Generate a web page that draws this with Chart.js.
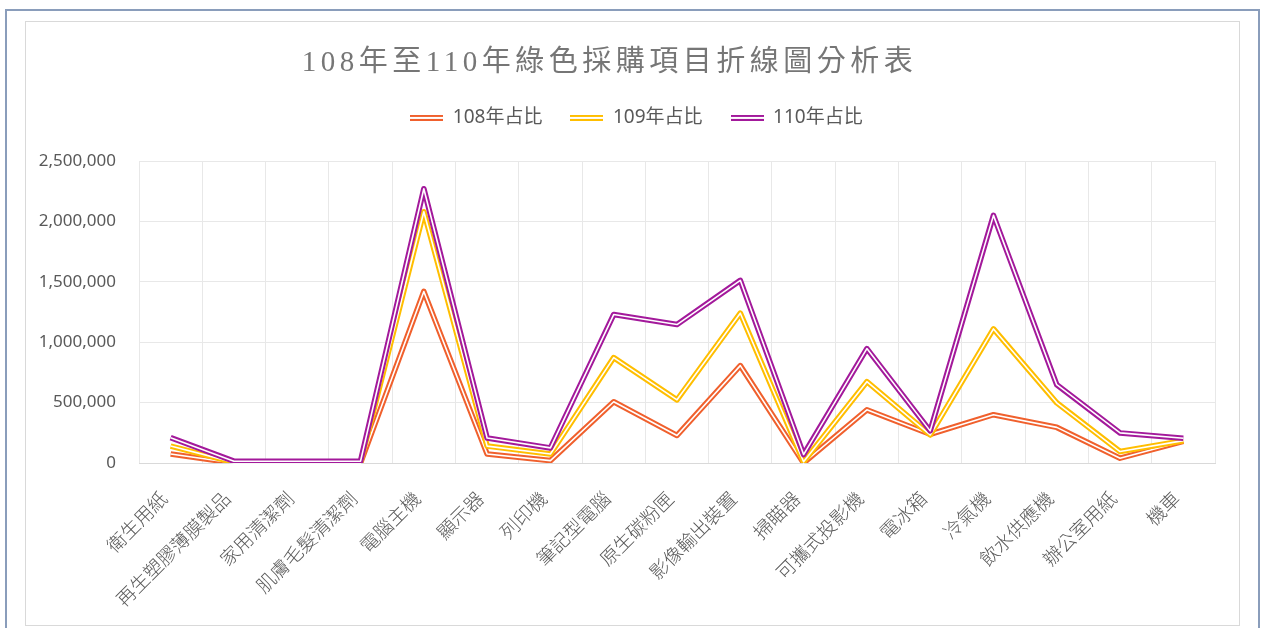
<!DOCTYPE html>
<html>
<head>
<meta charset="utf-8">
<script src="https://cdn.jsdelivr.net/npm/chart.js@4.4.1/dist/chart.umd.min.js"></script>
<style>
  html, body { margin: 0; padding: 0; background: #ffffff; width: 1261px; height: 628px; overflow: hidden; }
  #outer { position: absolute; left: 5px; top: 9px; width: 1251px; height: 640px; border: 2px solid #8a9dbb; border-bottom: none; }
  #frame { position: absolute; left: 25px; top: 21px; width: 1213px; height: 603px; border: 1px solid #d9d9d9; background: #fff; }
  #frame canvas { display: block; }
</style>
</head>
<body>
<div id="outer"></div>
<div id="frame"><canvas id="c" width="1213" height="603"></canvas></div>
<script>
// ---- data ----
const categories = ['衛生用紙','再生塑膠薄膜製品','家用清潔劑','肌膚毛髮清潔劑','電腦主機','顯示器','列印機','筆記型電腦','原生碳粉匣','影像輸出裝置','掃瞄器','可攜式投影機','電冰箱','冷氣機','飲水供應機','辦公室用紙','機車'];
const seriesNames = ['108年占比','109年占比','110年占比'];
const values108 = [75000, 0, 0, 0, 1420000, 75000, 20000, 507000, 228000, 806000, 0, 440000, 238000, 400000, 295000, 40000, 180000];
const values109 = [140000, 5000, 5000, 5000, 2080000, 140000, 75000, 872000, 523000, 1240000, 10000, 673000, 232000, 1110000, 498000, 95000, 185000];
const values110 = [210000, 15000, 15000, 15000, 2270000, 207000, 125000, 1229000, 1146000, 1512000, 70000, 947000, 266000, 2050000, 648000, 249000, 205000];
const yMin = 0, yMax = 2500000, yStep = 500000;
const titleText = '108年至110年綠色採購項目折線圖分析表';

const colors = ['#F0602D', '#FFBE00', '#A3199B'];

function legendSwatch(color) {
  const cv = document.createElement('canvas');
  cv.width = 33; cv.height = 6;
  const g = cv.getContext('2d');
  g.fillStyle = color; g.fillRect(0, 0, 33, 6);
  g.fillStyle = '#ffffff'; g.fillRect(0, 2, 33, 2);
  return cv;
}

const doubleLine = {
  id: 'doubleLine',
  afterDatasetDraw(chart, args) {
    const pts = args.meta.data;
    const ctx = chart.ctx;
    ctx.save();
    ctx.beginPath();
    pts.forEach((p, i) => { if (i === 0) ctx.moveTo(p.x, p.y); else ctx.lineTo(p.x, p.y); });
    ctx.lineWidth = 1.6;
    ctx.strokeStyle = '#ffffff';
    ctx.lineJoin = 'round';
    ctx.lineCap = 'butt';
    ctx.stroke();
    ctx.restore();
  }
};

function shiftBox(chart, box, dx, spacing) {
  if (!box || box._patched) return;
  const orig = box.draw.bind(box);
  box.draw = function(area) {
    const ctx = chart.ctx;
    ctx.save();
    if (spacing) ctx.letterSpacing = spacing;
    ctx.translate(dx, 0);
    orig(area);
    ctx.restore();
  };
  box._patched = true;
}

const boxShift = {
  id: 'boxShift',
  beforeDraw(chart) {
    shiftBox(chart, chart.titleBlock, -11, '4.5px');
    shiftBox(chart, chart.legend, 16, null);
  }
};

const seriesData = [values108, values109, values110];
const datasets = seriesData.map((vals, i) => ({
  label: seriesNames[i],
  data: vals,
  borderColor: colors[i],
  backgroundColor: colors[i],
  borderWidth: 5.6,
  borderJoinStyle: 'round',
  borderCapStyle: 'butt',
  pointRadius: 0,
  pointHoverRadius: 0,
  pointStyle: legendSwatch(colors[i]),
  tension: 0,
  fill: false,
  order: 3 - i
}));

const tickFont = { family: '"Noto Sans", "Noto Sans CJK TC", sans-serif', size: 17 };

new Chart(document.getElementById('c'), {
  type: 'line',
  data: { labels: categories, datasets: datasets },
  plugins: [doubleLine, boxShift],
  options: {
    responsive: false,
    animation: false,
    events: [],
    layout: { padding: { left: 0, right: 24, top: 0, bottom: 0 } },
    plugins: {
      title: {
        display: true,
        text: titleText,
        color: '#767676',
        font: { family: '"Liberation Serif", "Noto Sans CJK TC", serif', size: 29, weight: 'normal', lineHeight: 1.2 },
        padding: { top: 23.6, bottom: 0 }
      },
      subtitle: {
        display: true,
        text: '',
        weight: 500,
        font: { size: 1, lineHeight: 1 },
        padding: { top: 22.6, bottom: 0 }
      },
      legend: {
        display: true,
        position: 'top',
        labels: {
          usePointStyle: true,
          pointStyleWidth: 33,
          padding: 28,
          color: '#595959',
          font: { family: '"Noto Sans", "Noto Sans CJK TC", sans-serif', size: 19 },
          sort: (a, b) => a.datasetIndex - b.datasetIndex
        }
      },
      tooltip: { enabled: false }
    },
    scales: {
      x: {
        type: 'category',
        offset: true,
        grid: { offset: true, color: '#e8e8e8', lineWidth: 1, drawTicks: false },
        border: { display: true, color: '#d9d9d9', width: 1 },
        ticks: {
          autoSkip: false,
          minRotation: 45,
          maxRotation: 45,
          padding: 24,
          labelOffset: -7,
          color: '#595959',
          font: { family: '"Noto Sans CJK TC", sans-serif', size: 19, weight: '300' }
        },
        afterFit(scale) { scale.height = 162; }
      },
      y: {
        type: 'linear',
        min: yMin,
        max: yMax,
        grid: { color: '#e8e8e8', lineWidth: 1, drawTicks: false },
        border: { display: false },
        ticks: {
          stepSize: yStep,
          padding: 23,
          color: '#595959',
          font: tickFont,
          callback: (v) => Number(v).toLocaleString('en-US')
        },
        afterFit(scale) { scale.width = 113; }
      }
    }
  }
});
</script>
</body>
</html>
